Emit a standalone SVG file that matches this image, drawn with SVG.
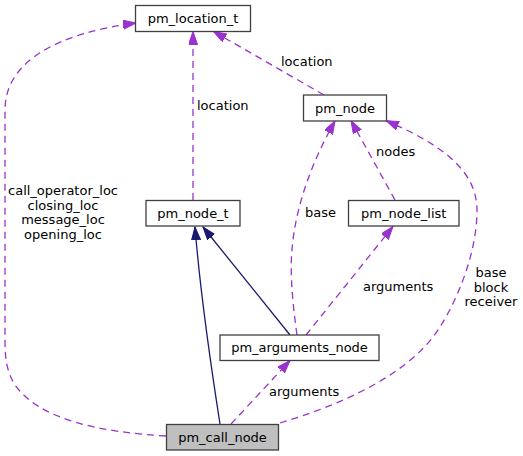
<svg xmlns="http://www.w3.org/2000/svg" width="523" height="456" viewBox="0 0 523 456">
<style>
.node rect{fill:#ffffff;stroke:#404040;stroke-width:1.3}
.node.hl rect{fill:#bfbfbf}
text{font-family:"DejaVu Sans","Liberation Sans",sans-serif;font-size:13px;fill:#000000}
.node text{text-anchor:middle}
.lbl{text-anchor:middle}
.dash{fill:none;stroke:#9a32cd;stroke-width:1.3;stroke-dasharray:7,5}
.solid{fill:none;stroke:#191970;stroke-width:1.3}
</style>
<defs>
<marker id="ap" markerUnits="userSpaceOnUse" markerWidth="14" markerHeight="10" refX="13" refY="4.5" orient="auto" viewBox="0 0 14 10">
<path d="M0,0 L13,4.5 L0,9 z" fill="#9a32cd" stroke="#9a32cd" stroke-width="1"/>
</marker>
<marker id="ab" markerUnits="userSpaceOnUse" markerWidth="14" markerHeight="10" refX="13" refY="4.5" orient="auto" viewBox="0 0 14 10">
<path d="M0,0 L13,4.5 L0,9 z" fill="#191970" stroke="#191970" stroke-width="1"/>
</marker>
</defs>
<rect width="523" height="456" fill="#ffffff"/>
<g id="edges">
<path class="dash" d="M166,436 C100,432 40,420 15,385 C7,372 5,360 5,340 L5,110 C5,60 60,33 136,23" marker-end="url(#ap)"/>
<text class="lbl" x="63" y="195">call_operator_loc</text>
<text class="lbl" x="63" y="209.5">closing_loc</text>
<text class="lbl" x="63" y="224">message_loc</text>
<text class="lbl" x="63" y="238.5">opening_loc</text>
<path class="dash" d="M193,200 L193,31.5" marker-end="url(#ap)"/>
<text x="197" y="110">location</text>
<path class="dash" d="M324,95 L213.5,31.5" marker-end="url(#ap)"/>
<text x="281" y="66">location</text>
<path class="dash" d="M297,335 C292,300 290,270 292,250 C295,210 310,165 335,121" marker-end="url(#ap)"/>
<text x="305" y="217">base</text>
<path class="dash" d="M395,200 L351,120.5" marker-end="url(#ap)"/>
<text x="376" y="156">nodes</text>
<path class="dash" d="M306,335 L393,226.5" marker-end="url(#ap)"/>
<text x="363" y="291">arguments</text>
<path class="dash" d="M280,423 C340,405 410,375 440,327 C460,295 477,250 477,210 C477,165 430,140 386,120.5" marker-end="url(#ap)"/>
<text class="lbl" x="491" y="277">base</text>
<text class="lbl" x="491" y="291.5">block</text>
<text class="lbl" x="491" y="306">receiver</text>
<path class="dash" d="M231,424 L290,360.5" marker-end="url(#ap)"/>
<text x="269" y="396">arguments</text>
<path class="solid" d="M220,424 C210,360 200,290 195,227" marker-end="url(#ab)"/>
<path class="solid" d="M290,335 L203,227" marker-end="url(#ab)"/>
</g>
<g id="pm_location_t" class="node"><rect x="135.5" y="5.5" width="115" height="26"/><text x="193" y="23">pm_location_t</text></g>
<g id="pm_node" class="node"><rect x="303.5" y="95" width="83" height="26"/><text x="345" y="112.5">pm_node</text></g>
<g id="pm_node_t" class="node"><rect x="146" y="200.5" width="94" height="25.5"/><text x="193" y="217.5">pm_node_t</text></g>
<g id="pm_node_list" class="node"><rect x="348.5" y="200.5" width="110.5" height="25.5"/><text x="403.75" y="217.5">pm_node_list</text></g>
<g id="pm_arguments_node" class="node"><rect x="220" y="335" width="159" height="25.5"/><text x="299.5" y="352">pm_arguments_node</text></g>
<g id="pm_call_node" class="node hl"><rect x="166.5" y="424.5" width="112" height="25.5"/><text x="222.5" y="441.5">pm_call_node</text></g>
</svg>
